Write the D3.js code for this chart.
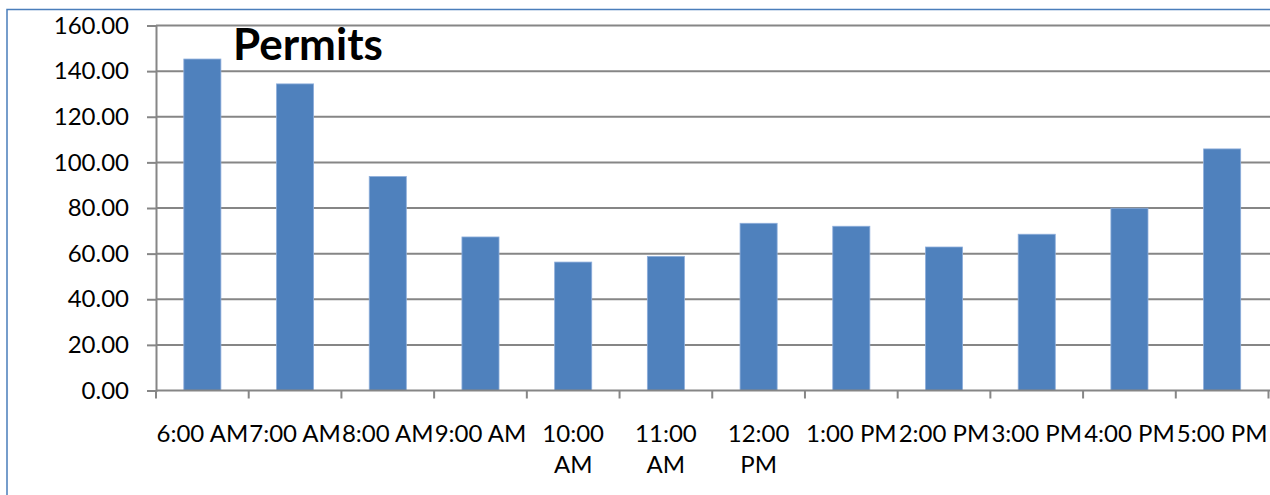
<!DOCTYPE html>
<html>
<head>
<meta charset="utf-8">
<script src="https://cdn.jsdelivr.net/npm/d3@7"></script>
<style>
  body { margin: 0; background: #fff; }
  text { font-family: Lato, "Open Sans", sans-serif; fill: #000; }
</style>
</head>
<body>
<div id="chart"></div>
<script>
// values
let hours = ["6:00 AM", "7:00 AM", "8:00 AM", "9:00 AM", "10:00 AM", "11:00 AM",
             "12:00 PM", "1:00 PM", "2:00 PM", "3:00 PM", "4:00 PM", "5:00 PM"];
let permits = [145.3, 134.4, 93.8, 67.3, 56.3, 58.8, 73.3, 72.0, 62.9, 68.5, 79.9, 105.9];
let yTicks = [0, 20, 40, 60, 80, 100, 120, 140, 160];
let chartTitle = "Permits";

window.addEventListener("load", main);

function main(){
  let [svgWidth, svgHeight] = [1270, 495];
  let plot = {left: 156, right: 1268.5, top: 25.5, bottom: 390.5};
  let fontSize = 24;

  let svg = d3.select('#chart').append('svg')
    .attr('width', svgWidth)
    .attr('height', svgHeight);

  // outer chart frame (only top and left are inside the picture)
  svg.append('rect')
    .attr('x', 7).attr('y', 9.5)
    .attr('width', 1300).attr('height', 600)
    .attr('fill', 'none')
    .attr('stroke', '#4a7ebb')
    .attr('stroke-width', 1.5);

  let xsc = d3.scaleBand()
    .domain(hours)
    .range([plot.left, plot.right])
    .paddingInner(0.6)
    .paddingOuter(0.3);

  let ysc = d3.scaleLinear()
    .domain([0, 160])
    .range([plot.bottom, plot.top]);

  // gridlines
  svg.append('g')
    .selectAll('line')
    .data(yTicks.filter(d => d > 0))
    .join('line')
      .attr('x1', plot.left).attr('x2', svgWidth)
      .attr('y1', d => ysc(d)).attr('y2', d => ysc(d))
      .attr('stroke', '#868686')
      .attr('stroke-width', 2);

  // bars
  svg.append('g')
    .selectAll('rect')
    .data(permits)
    .join('rect')
      .attr('x', (d, i) => xsc(hours[i]))
      .attr('y', d => ysc(d))
      .attr('width', xsc.bandwidth())
      .attr('height', d => ysc(0) - ysc(d))
      .attr('fill', '#4f81bd')
      .attr('stroke', '#8eaedb')
      .attr('stroke-width', 0.8);

  // y axis
  let yAxis = svg.append('g')
    .attr('transform', `translate(${plot.left},0)`)
    .call(d3.axisLeft(ysc).tickValues(yTicks).tickFormat(d3.format('.2f'))
            .tickSize(9).tickPadding(18));
  yAxis.select('.domain').attr('stroke', '#868686').attr('stroke-width', 2);
  yAxis.selectAll('.tick line').attr('stroke', '#868686').attr('stroke-width', 2);
  yAxis.selectAll('.tick text')
    .attr('font-size', fontSize)
    .attr('font-family', 'Lato, sans-serif')
    .attr('fill', '#000');

  // x axis: ticks sit on category boundaries
  let step = xsc.step();
  let bounds = d3.range(hours.length + 1).map(i => plot.left + i * step);
  let xAxis = svg.append('g');
  xAxis.append('line')
    .attr('x1', plot.left).attr('x2', svgWidth)
    .attr('y1', plot.bottom).attr('y2', plot.bottom)
    .attr('stroke', '#868686').attr('stroke-width', 2);
  xAxis.selectAll('line.tk')
    .data(bounds)
    .join('line')
      .attr('class', 'tk')
      .attr('x1', d => d).attr('x2', d => d)
      .attr('y1', plot.bottom).attr('y2', plot.bottom + 8)
      .attr('stroke', '#868686').attr('stroke-width', 2);

  // labels that do not fit the category get split over two lines
  let labels = xAxis.selectAll('text.lbl')
    .data(hours)
    .join('text')
      .attr('class', 'lbl')
      .attr('text-anchor', 'middle')
      .attr('font-size', fontSize)
      .attr('y', 441.5);
  labels.each(function(d){
    let cx = xsc(d) + xsc.bandwidth() / 2;
    let lines = d.length > 7 ? d.split(' ') : [d];
    d3.select(this).selectAll('tspan')
      .data(lines)
      .join('tspan')
        .attr('x', cx)
        .attr('dy', (l, j) => j === 0 ? 0 : 31.5)
        .text(l => l);
  });

  // title inside the plot
  svg.append('text')
    .attr('x', 233)
    .attr('y', 60)
    .attr('font-size', 44)
    .attr('font-weight', 'bold')
    .text(chartTitle);
}
</script>
</body>
</html>
